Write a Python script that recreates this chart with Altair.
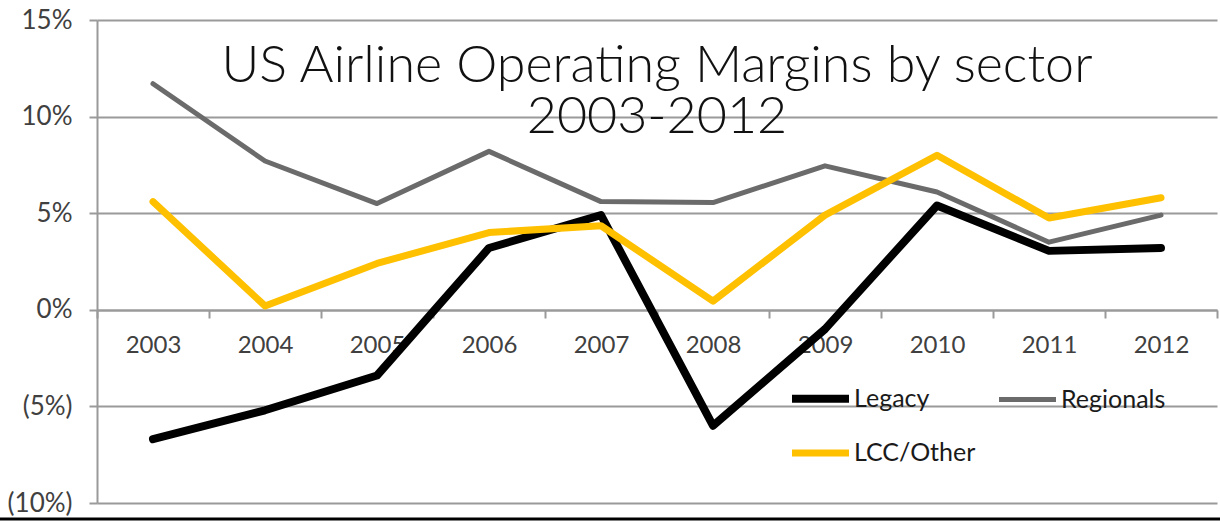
import altair as alt
import pandas as pd

years = ["2003", "2004", "2005", "2006", "2007", "2008", "2009", "2010", "2011", "2012"]
legacy = [-6.7, -5.2, -3.4, 3.2, 4.9, -6.0, -1.0, 5.4, 3.05, 3.2]
regionals = [11.7, 7.7, 5.5, 8.2, 5.6, 5.55, 7.45, 6.1, 3.5, 4.9]
lcc = [5.6, 0.2, 2.4, 4.0, 4.35, 0.45, 4.9, 8.0, 4.75, 5.8]

series_names = ["Legacy", "Regionals", "LCC/Other"]
legend_order = ["Legacy", "LCC/Other", "Regionals"]
color_map = {"Legacy": "#000000", "Regionals": "#6b6b6b", "LCC/Other": "#FFC000"}
width_map = {"Legacy": 8, "Regionals": 5, "LCC/Other": 7}
y_ticks = [-10, -5, 0, 5, 10, 15]

rows = []
for name, vals in zip(series_names, [legacy, regionals, lcc]):
    for y, v in zip(years, vals):
        rows.append({"year": y, "value": v, "series": name})
df = pd.DataFrame(rows)

FONT = "Lato"
TXT = "#404040"
GRID = "#9a9a9a"

x_enc = alt.X(
    "year:O",
    scale=alt.Scale(domain=years, paddingInner=0, paddingOuter=0),
    axis=alt.Axis(
        title=None, labelAngle=0, labelFontSize=24, labelColor=TXT, labelFont=FONT,
        domainColor=GRID, domainWidth=2, tickColor=GRID, tickWidth=2, tickSize=8,
        tickBand="extent", labelPadding=15, offset=-193, grid=False,
    ),
)
y_enc = alt.Y(
    "value:Q",
    scale=alt.Scale(domain=[-10, 15], nice=False, zero=False),
    axis=alt.Axis(
        title=None, values=y_ticks, labelFontSize=26, labelColor=TXT, labelFont=FONT,
        labelExpr="datum.value < 0 ? '(' + format(-datum.value, 'd') + '%)' : format(datum.value, 'd') + '%'",
        domainColor=GRID, domainWidth=2, tickColor=GRID, tickWidth=2, tickSize=8,
        gridColor=GRID, gridWidth=2, labelPadding=17,
    ),
)
color_enc = alt.Color(
    "series:N",
    scale=alt.Scale(domain=legend_order, range=[color_map[s] for s in legend_order]),
    legend=alt.Legend(
        title=None, orient="none", legendX=691, legendY=346, columns=2,
        symbolType="stroke", symbolSize=3249, labelFontSize=25, labelFont=FONT,
        labelColor="#1a1a1a", labelOffset=1, columnPadding=13, rowPadding=6,
        gridAlign="each", padding=0,
    ),
)
sw_enc = alt.StrokeWidth(
    "series:N",
    scale=alt.Scale(type="ordinal", domain=legend_order, range=[width_map[s] for s in legend_order]),
)

layers = []
for name in series_names:
    layers.append(
        alt.Chart(df)
        .transform_filter(alt.datum.series == name)
        .mark_line(strokeCap="round", strokeJoin="round")
        .encode(x=x_enc, y=y_enc, color=color_enc, strokeWidth=sw_enc)
    )

border = alt.Chart(pd.DataFrame({"a": [0]})).mark_rule(color="#000000", strokeWidth=3).encode(
    x=alt.value(-97), x2=alt.value(1123), y=alt.value(499)
)

chart = (
    alt.layer(*layers, border)
    .properties(
        width=1120,
        height=483,
        autosize=alt.AutoSizeParams(type="none"),
        padding={"left": 97, "top": 20, "right": 3, "bottom": 25},
        title=alt.TitleParams(
            text=["US Airline Operating Margins by sector", "2003-2012"],
            fontSize=52, font=FONT, fontWeight=300, color="#111111",
            anchor="middle", frame="group", offset=-137, lineHeight=51,
        ),
    )
    .configure_view(stroke=None)
)

chart.save("out.html", embed_options={"renderer": "svg", "actions": False})
